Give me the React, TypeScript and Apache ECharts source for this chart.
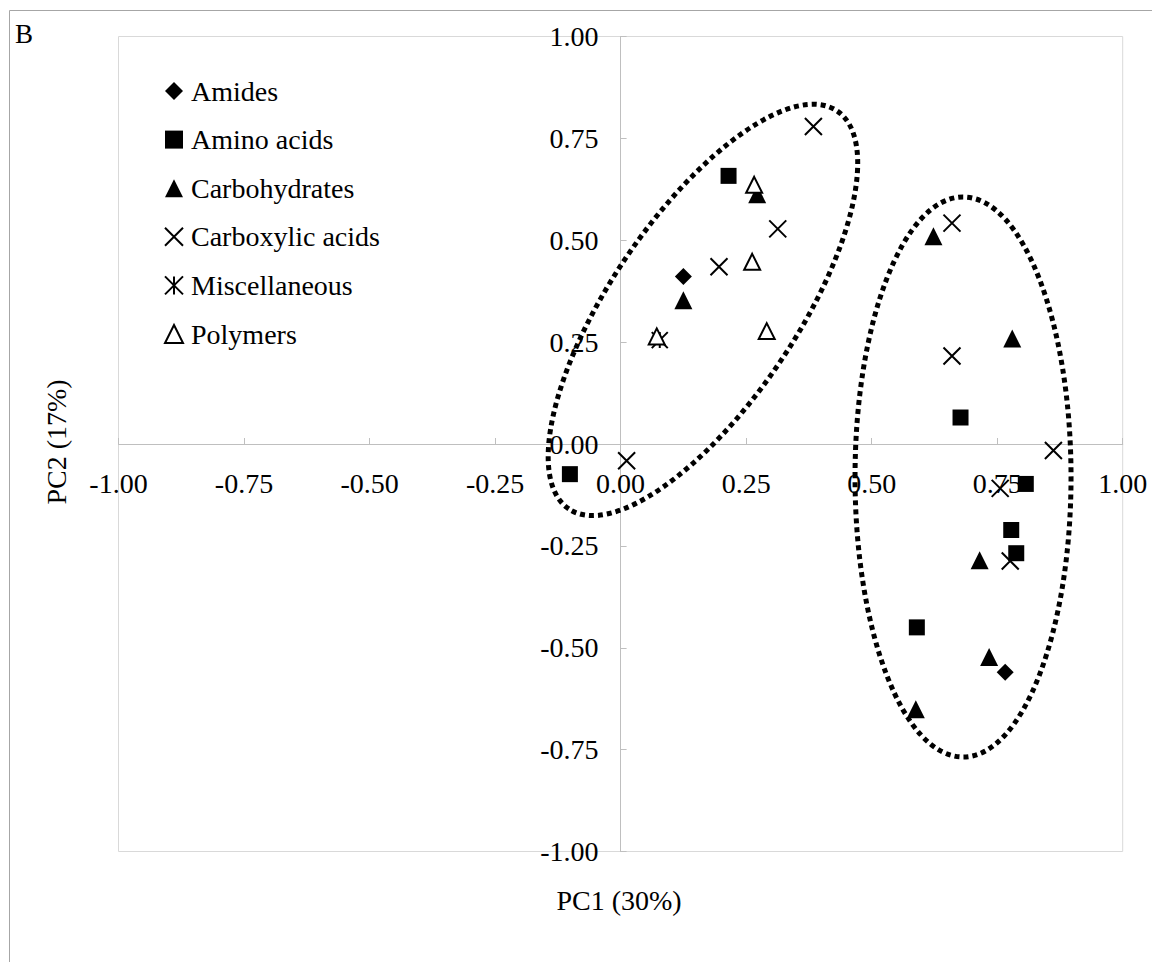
import React, { useEffect, useRef } from "react";
import * as echarts from "echarts";

// ---- Data (PC1, PC2 loadings) ----
const categories = ["Amides", "Amino acids", "Carbohydrates", "Carboxylic acids", "Miscellaneous", "Polymers"];

const amides: number[][] = [
  [0.125, 0.411],
  [0.766, -0.56],
];
const aminoAcids: number[][] = [
  [0.215, 0.658],
  [0.677, 0.065],
  [0.807, -0.098],
  [0.778, -0.211],
  [0.788, -0.268],
  [0.59, -0.45],
  [-0.101, -0.074],
];
const carbohydrates: number[][] = [
  [0.272, 0.613],
  [0.125, 0.353],
  [0.623, 0.51],
  [0.78, 0.259],
  [0.715, -0.285],
  [0.734, -0.523],
  [0.588, -0.651],
];
const carboxylicAcids: number[][] = [
  [0.384, 0.779],
  [0.313, 0.528],
  [0.196, 0.435],
  [0.66, 0.542],
  [0.66, 0.216],
  [0.862, -0.016],
  [0.756, -0.109],
  [0.776, -0.287],
  [0.012, -0.041],
];
const miscellaneous: number[][] = [[0.078, 0.255]];
const polymers: number[][] = [
  [0.266, 0.636],
  [0.262, 0.447],
  [0.291, 0.277],
  [0.072, 0.264],
];

// cluster ellipse centres (data coordinates)
const clusterCentres: number[][] = [
  [0.164, 0.329],
  [0.682, -0.081],
];

const axisMin = -1;
const axisMax = 1;
const axisStep = 0.25;

const axisTitleX = "PC1 (30%)";
const axisTitleY = "PC2 (17%)";
const panelLabel = "B";

// ---- Styles / layout ----
const FONT = "Liberation Serif, Times New Roman, serif";
const GRID = { left: 118.5, right: 29.3, top: 36.5, bottom: 110.5 };
const PLOT_W = 1152 - GRID.left - GRID.right;
const PLOT_H = 962 - GRID.top - GRID.bottom;
const ellipseShapes = [
  { rx: 240, ry: 93, rot: (56 * Math.PI) / 180 },
  { rx: 108, ry: 280, rot: 0 },
];
const X_PATH = "path://M0,0L10,10M10,0L0,10";
const STAR_PATH = "path://M0,0L10,10M10,0L0,10M5,0L5,10";

export default function App() {
  const ref = useRef<HTMLDivElement>(null);
  useEffect(() => {
    document.body.style.margin = "0";
    document.body.style.overflow = "hidden";
    const chart = echarts.init(ref.current!, null, { renderer: "svg" });
    const filled = (name: string, data: number[][], symbol: string, size: number) => ({
      name,
      type: "scatter",
      data,
      symbol,
      symbolSize: size,
      itemStyle: { color: "#000", opacity: 1 },
      z: 5,
    });
    const stroked = (name: string, data: number[][], symbol: string, size: number, bw: number, fill: string) => ({
      name,
      type: "scatter",
      data,
      symbol,
      symbolSize: size,
      itemStyle: { color: fill, borderColor: "#000", borderWidth: bw, opacity: 1 },
      z: 5,
    });
    // zero crossing positions (axes cross at 0)
    const zeroFracX = (0 - axisMin) / (axisMax - axisMin);
    const zeroFracY = (0 - axisMin) / (axisMax - axisMin);
    const option: any = {
      animation: false,
      backgroundColor: "#fff",
      textStyle: { fontFamily: FONT },
      grid: { ...GRID, show: true, borderColor: "#d9d9d9", borderWidth: 1, backgroundColor: "transparent" },
      legend: {
        data: categories,
        orient: "vertical",
        left: 159,
        top: 72,
        itemWidth: 18,
        itemHeight: 18,
        itemGap: 20.6,
        textStyle: { fontFamily: FONT, fontSize: 28, color: "#000", lineHeight: 28, padding: [0, 0, 0, 3] },
        selectedMode: false,
      },
      xAxis: {
        type: "value",
        min: axisMin,
        max: axisMax,
        interval: axisStep,
        position: "bottom",
        offset: -PLOT_H * zeroFracY,
        axisLine: { onZero: false, lineStyle: { color: "#bfbfbf", width: 1 } },
        axisTick: { show: true, inside: true, length: 6, lineStyle: { color: "#bfbfbf" } },
        axisLabel: { formatter: (v: number) => v.toFixed(2), fontFamily: FONT, fontSize: 28, color: "#000", margin: 25 },
        splitLine: { show: false },
      },
      yAxis: {
        type: "value",
        min: axisMin,
        max: axisMax,
        interval: axisStep,
        position: "left",
        offset: -PLOT_W * zeroFracX,
        axisLine: { onZero: false, lineStyle: { color: "#bfbfbf", width: 1 } },
        axisTick: { show: true, inside: true, length: 6, lineStyle: { color: "#bfbfbf" } },
        axisLabel: { formatter: (v: number) => v.toFixed(2), fontFamily: FONT, fontSize: 28, color: "#000", margin: 22 },
        splitLine: { show: false },
      },
      graphic: [
        { type: "rect", shape: { x: 9.5, y: 10.5, width: 1300, height: 1100 }, style: { fill: "none", stroke: "#a6a6a6", lineWidth: 1 }, silent: true },
        { type: "text", x: 15, y: 20, style: { text: panelLabel, font: `27px ${FONT}`, fill: "#000", textVerticalAlign: "top" } },
        { type: "text", x: 619, y: 900, style: { text: axisTitleX, font: `28px ${FONT}`, fill: "#000", textAlign: "center", textVerticalAlign: "middle" } },
        { type: "text", x: 56, y: 442, rotation: Math.PI / 2, style: { text: axisTitleY, font: `28px ${FONT}`, fill: "#000", textAlign: "center", textVerticalAlign: "middle" } },
      ],
      series: [
        {
          type: "custom",
          name: "clusters",
          data: clusterCentres,
          clip: false,
          z: 3,
          renderItem: (params: any, api: any) => {
            const c = api.coord([api.value(0), api.value(1)]);
            const e = ellipseShapes[params.dataIndex];
            return {
              type: "ellipse",
              x: c[0],
              y: c[1],
              rotation: e.rot,
              shape: { cx: 0, cy: 0, rx: e.rx, ry: e.ry },
              style: { fill: "none", stroke: "#000", lineWidth: 5, lineDash: [5, 4] },
            };
          },
        },
        filled("Amides", amides, "diamond", 17),
        filled("Amino acids", aminoAcids, "rect", 16),
        filled("Carbohydrates", carbohydrates, "triangle", 18),
        stroked("Carboxylic acids", carboxylicAcids, X_PATH, 17, 2, "transparent"),
        stroked("Miscellaneous", miscellaneous, STAR_PATH, 16, 2, "transparent"),
        stroked("Polymers", polymers, "triangle", 16, 2, "#fff"),
      ],
    };
    chart.setOption(option);
    return () => chart.dispose();
  }, []);
  return <div ref={ref} style={{ width: 1152, height: 962 }} />;
}
